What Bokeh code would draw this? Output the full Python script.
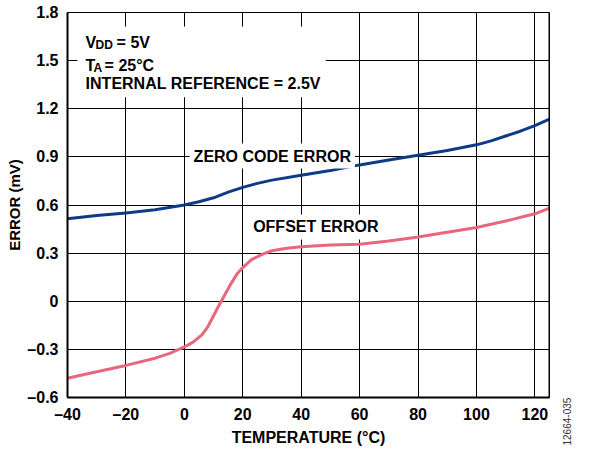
from bokeh.plotting import figure
from bokeh.models import Range1d, FixedTicker, Label, BoxAnnotation, Span, Title
from bokeh.layouts import row
from bokeh.embed import file_html
from bokeh.resources import INLINE

# ---- data ----
zero_t = [-40, -30, -20, -10, 0, 5, 10, 15, 20, 25, 30, 40, 50, 60, 70, 80, 90, 100, 105, 110, 115, 120, 125]
zero_err = [0.515, 0.535, 0.55, 0.57, 0.60, 0.62, 0.645, 0.68, 0.71, 0.735, 0.755, 0.785, 0.815, 0.85, 0.88,
            0.91, 0.94, 0.975, 1.0, 1.03, 1.06, 1.095, 1.135]

off_t = [-40, -30, -20, -10, -5, 0, 3, 6, 8, 10, 12, 14, 16, 18, 20, 23, 27, 30, 35, 40, 50, 60, 70, 80, 90,
         100, 110, 120, 125]
off_err = [-0.48, -0.44, -0.40, -0.355, -0.325, -0.285, -0.255, -0.21, -0.16, -0.09, -0.02, 0.045, 0.11, 0.17,
           0.21, 0.26, 0.295, 0.315, 0.33, 0.34, 0.35, 0.355, 0.375, 0.40, 0.43, 0.46, 0.50, 0.545, 0.58]

x_ticks = [-40, -20, 0, 20, 40, 60, 80, 100, 120]
x_tick_labels = ["–40", "–20", "0", "20", "40", "60", "80", "100", "120"]
y_ticks = [-0.6, -0.3, 0, 0.3, 0.6, 0.9, 1.2, 1.5, 1.8]
y_tick_labels = ["–0.6", "–0.3", "0", "0.3", "0.6", "0.9", "1.2", "1.5", "1.8"]
x_min, x_max = -40, 125
y_min, y_max = -0.6, 1.8

FONT = "Liberation Sans"
BLUE = "#0d3b87"
PINK = "#e8677d"

p = figure(width=560, height=454, output_backend="svg", toolbar_location=None,
           x_range=Range1d(x_min, x_max), y_range=Range1d(y_min, y_max),
           min_border_left=67, min_border_right=11, min_border_top=12, min_border_bottom=57)
p.background_fill_color = "white"
p.border_fill_color = "white"
p.outline_line_color = "black"
p.outline_line_width = 1

for ax, ticks, labels in ((p.xaxis[0], x_ticks, x_tick_labels), (p.yaxis[0], y_ticks, y_tick_labels)):
    ax.ticker = FixedTicker(ticks=ticks)
    ax.major_label_overrides = dict(zip(ticks, labels))
    ax.minor_tick_line_color = None
    ax.major_tick_in = 0
    ax.major_tick_out = 0
    ax.axis_line_width = 2
    ax.axis_line_color = "black"
    ax.major_label_text_font = FONT
    ax.major_label_text_font_style = "bold"
    ax.major_label_text_font_size = "16px"
    ax.major_label_text_color = "black"
    ax.axis_label_text_font = FONT
    ax.axis_label_text_font_style = "bold"
    ax.axis_label_text_font_size = "15px"
    ax.axis_label_text_color = "black"

p.yaxis.axis_label = "ERROR (mV)"
p.xaxis.major_label_standoff = 8
p.yaxis.major_label_standoff = 9
p.yaxis.axis_label_standoff = 1

# x-axis title as a title panel below the axis
p.add_layout(Title(text="TEMPERATURE (°C)", align="center", standoff=2, offset=0,
                   text_font=FONT, text_font_style="bold", text_font_size="16px", text_color="black"),
             "below")

for g in (p.xgrid[0], p.ygrid[0]):
    g.grid_line_color = "black"
    g.grid_line_width = 1
    g.grid_line_alpha = 1
p.xgrid.ticker = FixedTicker(ticks=x_ticks)
p.ygrid.ticker = FixedTicker(ticks=y_ticks)

# thicker right border
p.add_layout(Span(location=x_max, dimension="height", line_color="black", line_width=2))

p.line(zero_t, zero_err, line_color=BLUE, line_width=3)
p.line(off_t, off_err, line_color=PINK, line_width=3)

# white box behind the condition text
p.add_layout(BoxAnnotation(left=-36.6, right=48.4, top=1.713, bottom=1.271,
                           fill_color="white", fill_alpha=1, line_alpha=0))

def lab(fig, x, y, text, size="16px", xo=0, yo=0, align="left", baseline="alphabetic", bg=None,
        style="bold", angle=0, color="black"):
    kw = dict(x=x, y=y, text=text, x_offset=xo, y_offset=yo, text_font=FONT, text_font_style=style,
              text_font_size=size, text_align=align, text_baseline=baseline, text_color=color, angle=angle)
    if bg:
        kw.update(background_fill_color=bg, background_fill_alpha=1, padding=4)
    fig.add_layout(Label(**kw))

x0 = -33.8
lab(p, x0, 1.613, "V")
lab(p, x0, 1.613, "DD", size="12px", xo=10, yo=-3)
lab(p, x0, 1.613, " = 5V", xo=31)
lab(p, x0, 1.470, "T")
lab(p, x0, 1.470, "A", size="12px", xo=8, yo=-3)
lab(p, x0, 1.470, " = 25°C", xo=19)
lab(p, x0, 1.357, "INTERNAL REFERENCE = 2.5V")

lab(p, 30.1, 0.905, "ZERO CODE ERROR", align="center", baseline="middle", bg="white")
lab(p, 45.0, 0.463, "OFFSET ERROR", align="center", baseline="middle", bg="white")

# narrow side figure holding the vertical figure-number text (as a left-side title)
p2 = figure(width=31, height=454, output_backend="svg", toolbar_location=None,
            x_range=Range1d(0, 1), y_range=Range1d(0, 1), x_axis_type=None, y_axis_type=None,
            min_border=0)
p2.outline_line_color = None
p2.grid.visible = False
p2.background_fill_color = "white"
p2.border_fill_color = "white"
p2.add_layout(Title(text="12664-035", align="left", standoff=0, offset=-48,
                    text_font=FONT, text_font_style="normal", text_font_size="10px",
                    text_color="#333333"), "left")

open("out.html", "w").write(file_html(row(p, p2), INLINE))
